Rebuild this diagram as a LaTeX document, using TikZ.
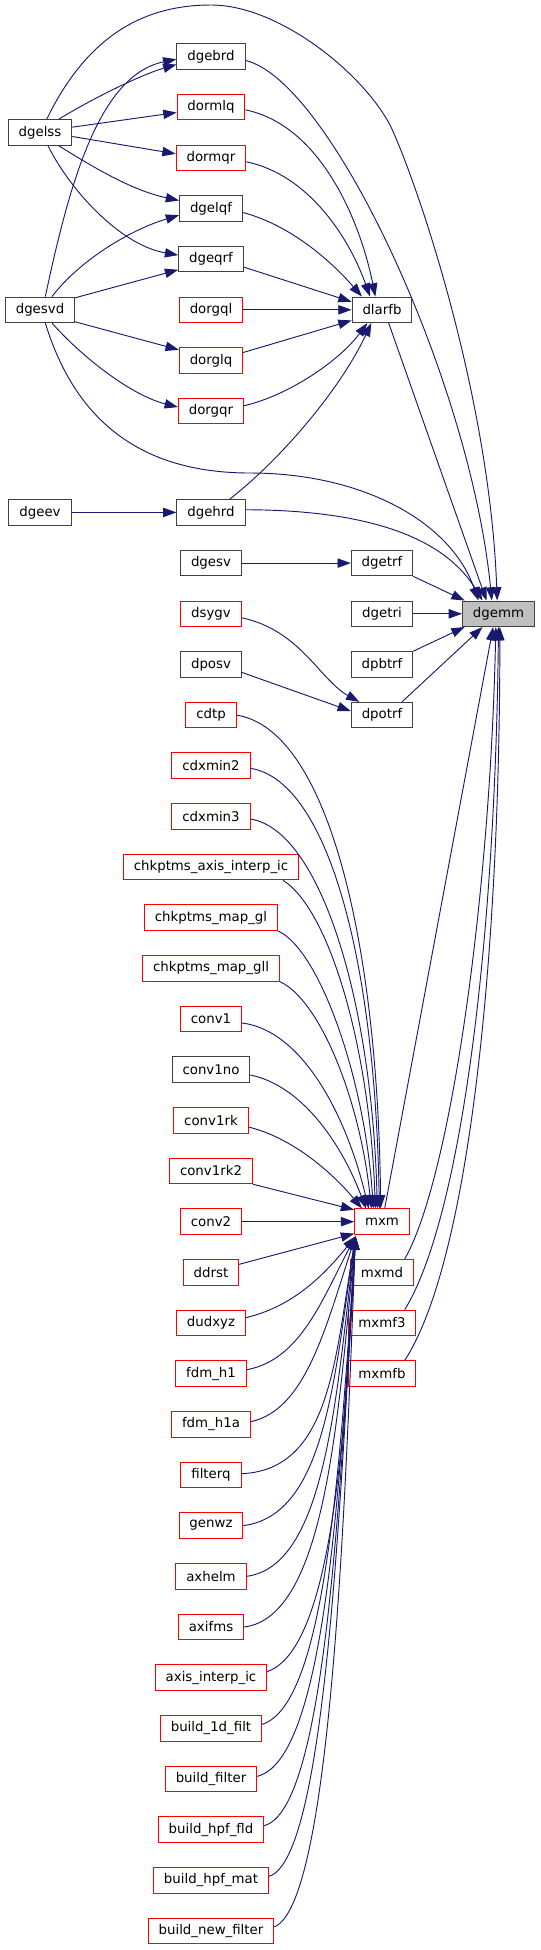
\documentclass[tikz,border=0pt]{standalone}
\usepackage{fontspec}
\setmainfont{DejaVu Sans}
\usepackage{tikz}
\usetikzlibrary{arrows.meta}

\definecolor{edgeblue}{HTML}{191970}
\definecolor{boxred}{HTML}{FF0000}
\definecolor{boxdark}{HTML}{404040}
\definecolor{boxfill}{HTML}{BFBFBF}

\begin{document}
\begin{tikzpicture}[
  x=0.75pt, y=-0.75pt,
  fn/.style={draw=boxdark, line width=0.75pt, fill=white, minimum height=19.1pt,
             inner xsep=7.8pt, inner ysep=0pt, font=\fontsize{10}{12}\selectfont},
  fnred/.style={fn, draw=boxred},
  fncur/.style={fn, fill=boxfill},
  arr/.style={-{Triangle[length=10pt,width=7pt]}, draw=edgeblue, line width=0.7pt}
]
  \useasboundingbox (0,0) rectangle (540,1950);

  % left column
  \node[fn] (dgelss) at (40,132.5) {dgelss};
  \node[fn] (dgesvd) at (40,309.8) {dgesvd};
  \node[fn] (dgeev)  at (40,512.4) {dgeev};

  % middle column
  \node[fn]    (dgebrd)  at (211,56.5)   {dgebrd};
  \node[fnred] (dormlq)  at (211,107.2)  {dormlq};
  \node[fnred] (dormqr)  at (211,157.8)  {dormqr};
  \node[fn]    (dgelqf)  at (211,208.5)  {dgelqf};
  \node[fn]    (dgeqrf)  at (211,259.1)  {dgeqrf};
  \node[fnred] (dorgql)  at (211,309.8)  {dorgql};
  \node[fnred] (dorglq)  at (211,360.5)  {dorglq};
  \node[fnred] (dorgqr)  at (211,411.1)  {dorgqr};
  \node[fn]    (dgehrd)  at (211,512.4)  {dgehrd};
  \node[fn]    (dgesv)   at (211,563.1)  {dgesv};
  \node[fnred] (dsygv)   at (211,613.8)  {dsygv};
  \node[fn]    (dposv)   at (211,664.4)  {dposv};
  \node[fnred] (cdtp)    at (211,715.1)  {cdtp};
  \node[fnred] (cdxmin2) at (211,765.7)  {cdxmin2};
  \node[fnred] (cdxmin3) at (211,816.4)  {cdxmin3};
  \node[fnred] (chkaxis) at (211,867.1)  {chkptms\_axis\_interp\_ic};
  \node[fnred] (chkgl)   at (211,917.7)  {chkptms\_map\_gl};
  \node[fnred] (chkgll)  at (211,968.4)  {chkptms\_map\_gll};
  \node[fnred] (conv1)   at (211,1019.0) {conv1};
  \node[fn]    (conv1no) at (211,1069.7) {conv1no};
  \node[fnred] (conv1rk) at (211,1120.4) {conv1rk};
  \node[fnred] (conv1rktwo) at (211,1171.0) {conv1rk2};
  \node[fnred] (conv2)   at (211,1221.7) {conv2};
  \node[fnred] (ddrst)   at (211,1272.3) {ddrst};
  \node[fnred] (dudxyz)  at (211,1323.0) {dudxyz};
  \node[fnred] (fdmh)    at (211,1373.7) {fdm\_h1};
  \node[fnred] (fdmha)   at (211,1424.3) {fdm\_h1a};
  \node[fnred] (filterq) at (211,1475.0) {filterq};
  \node[fnred] (genwz)   at (211,1525.6) {genwz};
  \node[fnred] (axhelm)  at (211,1576.3) {axhelm};
  \node[fnred] (axifms)  at (211,1627.0) {axifms};
  \node[fnred] (axisic)  at (211,1677.6) {axis\_interp\_ic};
  \node[fnred] (bonedf)  at (211,1728.3) {build\_1d\_filt};
  \node[fnred] (bfilter) at (211,1779.0) {build\_filter};
  \node[fnred] (bhpffld) at (211,1829.6) {build\_hpf\_fld};
  \node[fnred] (bhpfmat) at (211,1880.3) {build\_hpf\_mat};
  \node[fnred] (bnewf)   at (211,1930.9) {build\_new\_filter};

  % right columns
  \node[fn]    (dlarfb) at (382,309.8)  {dlarfb};
  \node[fn]    (dgetrf) at (382,563.1)  {dgetrf};
  \node[fn]    (dgetri) at (382,613.8)  {dgetri};
  \node[fn]    (dpbtrf) at (382,664.4)  {dpbtrf};
  \node[fn]    (dpotrf) at (382,715.1)  {dpotrf};
  \node[fnred] (mxm)    at (382,1221.7) {mxm};
  \node[fnred] (mxmd)   at (382,1272.3) {mxmd};
  \node[fnred] (mxmfthree) at (382,1323.0) {mxmf3};
  \node[fnred] (mxmfb)  at (382,1373.7) {mxmfb};
  \node[fncur] (dgemm)  at (498.5,613.8) {dgemm};

  % callers of dgebrd, dormlq, ...
  \draw[arr] ([xshift=14pt]dgelss.north) .. controls (90,100) and (140,75) .. ([yshift=-6pt]dgebrd.west);
  \draw[arr] ([xshift=4pt]dgesvd.north) .. controls (70,180) and (100,75) .. ([yshift=-2pt]dgebrd.west);
  \draw[arr] ([yshift=4pt]dgelss.east) -- ([yshift=-4pt]dormlq.west);
  \draw[arr] ([yshift=-3pt]dgelss.east) -- ([yshift=3pt]dormqr.west);
  \draw[arr] ([xshift=14pt]dgelss.south) .. controls (90,165) and (130,190) .. ([yshift=6pt]dgelqf.west);
  \draw[arr] ([xshift=6pt]dgelss.south) .. controls (70,190) and (120,245) .. ([yshift=3pt]dgeqrf.west);
  \draw[arr] ([xshift=9pt]dgesvd.north) .. controls (80,260) and (130,230) .. ([yshift=-5pt]dgelqf.west);
  \draw[arr] ([yshift=9pt]dgesvd.east) -- ([yshift=-8pt]dgeqrf.west);
  \draw[arr] ([yshift=-9pt]dgesvd.east) -- ([yshift=8pt]dorglq.west);
  \draw[arr] ([xshift=9pt]dgesvd.south) .. controls (80,355) and (130,395) .. ([yshift=3pt]dorgqr.west);
  \draw[arr] (dgeev) -- (dgehrd);
  \draw[arr] (dgesv) -- (dgetrf);

  % into dlarfb
  \draw[arr] ([yshift=-2pt]dormlq.east) .. controls (320,125) and (360,220) .. ([xshift=-5pt]dlarfb.north);
  \draw[arr] ([yshift=-3pt]dormqr.east) .. controls (310,175) and (350,240) .. ([xshift=-9pt]dlarfb.north);
  \draw[arr] ([yshift=-3pt]dgelqf.east) .. controls (290,225) and (330,260) .. ([xshift=-15pt]dlarfb.north);
  \draw[arr] ([yshift=-6pt]dgeqrf.east) -- ([yshift=6pt]dlarfb.west);
  \draw[arr] (dorgql) -- (dlarfb);
  \draw[arr] ([yshift=6pt]dorglq.east) -- ([yshift=-8pt]dlarfb.west);
  \draw[arr] ([yshift=4pt]dorgqr.east) .. controls (290,395) and (340,360) .. ([xshift=-11pt]dlarfb.south);
  \draw[arr] ([xshift=14pt]dgehrd.north) .. controls (280,460) and (340,390) .. ([xshift=-8pt]dlarfb.south);

  % into dpotrf
  \draw[arr] ([yshift=-3pt]dsygv.east) .. controls (300,630) and (320,680) .. ([xshift=-17pt]dpotrf.north);
  \draw[arr] ([yshift=-6pt]dposv.east) -- ([yshift=3pt]dpotrf.west);

  % into dgemm
  \draw[arr] ([xshift=5pt]dgelss.north) .. controls (90,30) and (150,5) .. (211,5)
    .. controls (280,5) and (365,75) .. (391,127)
    .. controls (420,190) and (490,400) .. ([xshift=-1pt]dgemm.north);
  \draw[arr] ([yshift=-3pt]dgebrd.east) .. controls (330,80) and (470,380) .. ([xshift=-5pt]dgemm.north);
  \draw[arr] ([xshift=5pt]dlarfb.south) -- ([xshift=-9pt]dgemm.north);
  \draw[arr] ([xshift=4pt]dgesvd.south) .. controls (75,420) and (140,473) .. (250,473)
    .. controls (360,473) and (450,520) .. ([xshift=-15pt]dgemm.north);
  \draw[arr] ([yshift=2pt]dgehrd.east) .. controls (350,510) and (440,530) .. ([xshift=-12pt]dgemm.north);
  \draw[arr] (dgetrf.south east) -- ([xshift=2pt]dgemm.north west);
  \draw[arr] (dgetri) -- (dgemm);
  \draw[arr] (dpbtrf.north east) -- ([xshift=2pt]dgemm.south west);
  \draw[arr] ([xshift=15pt]dpotrf.north) -- ([xshift=-12pt]dgemm.south);
  \draw[arr] ([xshift=2pt]mxm.north) -- ([xshift=-4pt]dgemm.south);
  \draw[arr] ([xshift=17pt]mxmd.north) .. controls (450,1180) and (490,900) .. ([xshift=-2pt]dgemm.south);
  \draw[arr] ([xshift=17pt]mxmfthree.north) .. controls (460,1220) and (495,950) .. (dgemm.south);
  \draw[arr] ([xshift=17pt]mxmfb.north) .. controls (470,1260) and (500,950) .. ([xshift=1pt]dgemm.south);

  % into mxm, from above
  \draw[arr] (cdtp.east) .. controls (330,730) and (378,950) .. ([xshift=-1pt]mxm.north);
  \draw[arr] ([yshift=-2pt]cdxmin2.east) .. controls (325,780) and (375,950) .. ([xshift=-2pt]mxm.north);
  \draw[arr] ([yshift=-2pt]cdxmin3.east) .. controls (320,830) and (372,1000) .. ([xshift=-3.5pt]mxm.north);
  \draw[arr] ([xshift=-12pt]chkaxis.south east) .. controls (330,910) and (370,1050) .. ([xshift=-5pt]mxm.north);
  \draw[arr] (chkgl.south east) .. controls (320,950) and (365,1080) .. ([xshift=-6.5pt]mxm.north);
  \draw[arr] (chkgll.south east) .. controls (320,1000) and (360,1100) .. ([xshift=-8pt]mxm.north);
  \draw[arr] ([yshift=-3pt]conv1.east) .. controls (300,1030) and (345,1110) .. ([xshift=-10pt]mxm.north);
  \draw[arr] ([yshift=-4pt]conv1no.east) .. controls (300,1085) and (340,1140) .. ([xshift=-12pt]mxm.north);
  \draw[arr] ([yshift=-5pt]conv1rk.east) .. controls (290,1137) and (330,1170) .. ([xshift=-15pt]mxm.north);
  \draw[arr] (conv1rktwo.south east) -- ([yshift=-1pt]mxm.north west);
  \draw[arr] (conv2) -- (mxm);
  \draw[arr] ([yshift=6pt]ddrst.east) -- ([yshift=1pt]mxm.south west);

  % into mxm, from below
  \draw[arr] ([yshift=4pt]dudxyz.east) .. controls (290,1307) and (320,1280) .. ([xshift=1pt,yshift=-1pt]mxm.south west);
  \draw[arr] ([yshift=3pt]fdmh.east) .. controls (300,1360) and (322,1300) .. ([xshift=1pt,yshift=-1pt]mxm.south west);
  \draw[arr] ([yshift=2pt]fdmha.east) .. controls (305,1410) and (325,1330) .. ([xshift=1pt,yshift=-1pt]mxm.south west);
  \draw[arr] ([yshift=1pt]filterq.east) .. controls (330,1470) and (335,1360) .. ([xshift=1pt,yshift=-1pt]mxm.south west);
  \draw[arr] (genwz.east) .. controls (325,1515) and (334,1380) .. ([xshift=1pt,yshift=-1pt]mxm.south west);
  \draw[arr] (axhelm.east) .. controls (325,1566) and (336,1400) .. ([xshift=1pt,yshift=-1pt]mxm.south west);
  \draw[arr] (axifms.east) .. controls (325,1617) and (338,1420) .. ([xshift=1pt,yshift=-1pt]mxm.south west);
  \draw[arr] ([yshift=4.5pt]axisic.east) .. controls (330,1650) and (345,1450) .. ([xshift=1pt,yshift=-1pt]mxm.south west);
  \draw[arr] ([yshift=3pt]bonedf.east) .. controls (325,1705) and (340,1470) .. ([xshift=1pt,yshift=-1pt]mxm.south west);
  \draw[arr] ([yshift=2pt]bfilter.east) .. controls (325,1760) and (340,1490) .. ([xshift=1pt,yshift=-1pt]mxm.south west);
  \draw[arr] ([yshift=3pt]bhpffld.east) .. controls (325,1810) and (340,1500) .. ([xshift=1pt,yshift=-1pt]mxm.south west);
  \draw[arr] ([yshift=3pt]bhpfmat.east) .. controls (325,1860) and (340,1510) .. ([xshift=1pt,yshift=-1pt]mxm.south west);
  \draw[arr] ([yshift=3pt]bnewf.east) .. controls (330,1905) and (345,1520) .. ([xshift=1pt,yshift=-1pt]mxm.south west);
\end{tikzpicture}
\end{document}
